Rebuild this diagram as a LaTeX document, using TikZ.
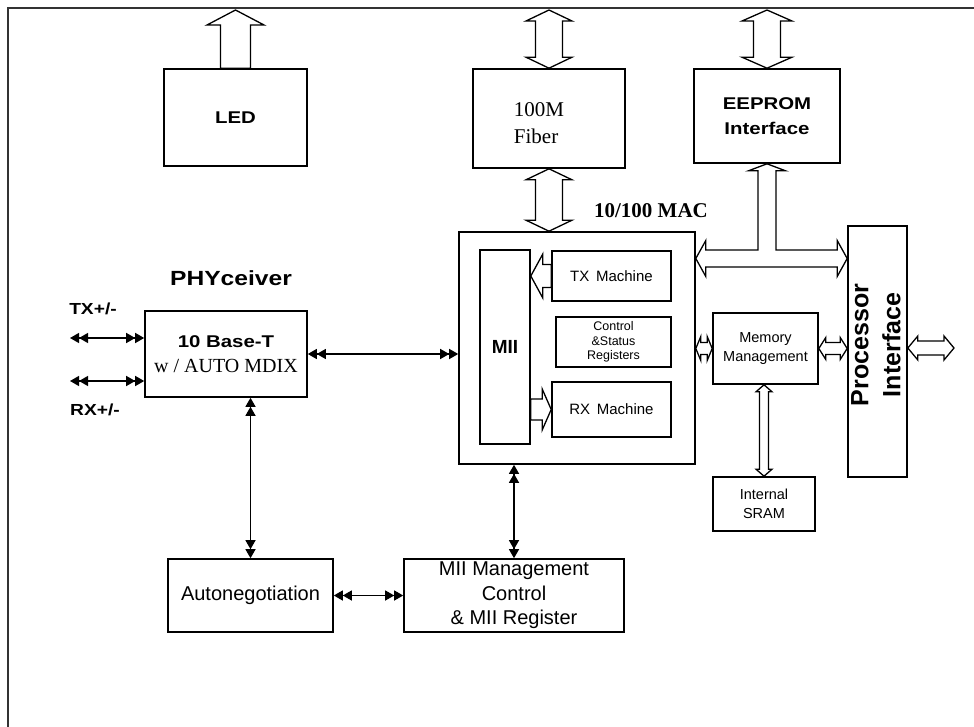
\documentclass[tikz,border=0pt]{standalone}
\usepackage{fontspec}
\setmainfont{Liberation Serif}
\setsansfont{Liberation Sans}
\newfontfamily\bsans[FakeStretch=1.2]{Liberation Sans}
\usetikzlibrary{arrows.meta,calc}
\newcommand\fs[2]{\fontsize{#1}{#2}\selectfont}
\tikzset{
  box/.style={draw, line width=1.6pt, inner sep=0pt, align=center, fill=white},
  blk/.style={draw, line width=1.3pt, fill=white, line join=miter},
  dbl/.style={line width=1.3pt, {Triangle[length=9pt,width=10pt]Triangle[length=9pt,width=10pt]}-{Triangle[length=9pt,width=10pt]Triangle[length=9pt,width=10pt]}},
  lbl/.style={inner sep=0pt, align=center}
}
% block arrow helpers (#3 shaft half width, #4 head half width, #5 head length)
\newcommand\blkvdbl[5]{%
  \draw[blk] (#1) -- ($(#1)+(#4,#5)$) -- ($(#1)+(#3,#5)$) -- ($(#2)+(#3,-#5)$) -- ($(#2)+(#4,-#5)$) -- (#2)
   -- ($(#2)+(-#4,-#5)$) -- ($(#2)+(-#3,-#5)$) -- ($(#1)+(-#3,#5)$) -- ($(#1)+(-#4,#5)$) -- cycle;}
\newcommand\blkhdbl[5]{%
  \draw[blk] (#1) -- ($(#1)+(#5,-#4)$) -- ($(#1)+(#5,-#3)$) -- ($(#2)+(-#5,-#3)$) -- ($(#2)+(-#5,-#4)$) -- (#2)
   -- ($(#2)+(-#5,#4)$) -- ($(#2)+(-#5,#3)$) -- ($(#1)+(#5,#3)$) -- ($(#1)+(#5,#4)$) -- cycle;}
\newcommand\blkup[5]{%
  \draw[blk] (#1) -- ($(#1)+(#4,#5)$) -- ($(#1)+(#3,#5)$) -- ($(#2)+(#3,0)$) -- ($(#2)+(-#3,0)$)
   -- ($(#1)+(-#3,#5)$) -- ($(#1)+(-#4,#5)$) -- cycle;}
\newcommand\blkleft[5]{%
  \draw[blk] (#1) -- ($(#1)+(#5,-#4)$) -- ($(#1)+(#5,-#3)$) -- ($(#2)+(0,-#3)$) -- ($(#2)+(0,#3)$)
   -- ($(#1)+(#5,#3)$) -- ($(#1)+(#5,#4)$) -- cycle;}
\newcommand\blkright[5]{%
  \draw[blk] (#2) -- ($(#2)+(-#5,-#4)$) -- ($(#2)+(-#5,-#3)$) -- ($(#1)+(0,-#3)$) -- ($(#1)+(0,#3)$)
   -- ($(#2)+(-#5,#3)$) -- ($(#2)+(-#5,#4)$) -- cycle;}
\begin{document}
\begin{tikzpicture}[x=1pt,y=-1pt]
\useasboundingbox (0,0) rectangle (974,727);
\fill[white] (0,0) rectangle (974,727);
% frame (cropped at right and bottom)
\coordinate (fr) at (8,8);
\draw[line width=1.5pt, black!80] (fr |- 0,727) -- (fr) -- (974,8);

% boxes
\node[box, minimum width=143, minimum height=97, font={\bsans\bfseries\fs{17}{20}}] (led) at (235.5,117.5) {LED};
\node[box, minimum width=152, minimum height=99] (fiber) at (549,118.5) {};
\node[lbl, align=left, font={\rmfamily\fs{21}{27}}] (fibtxt) at (539,123.5) {100M\\Fiber};
\node[box, minimum width=146, minimum height=94, font={\bsans\bfseries\fs{17}{25}}] (eeprom) at (767,116) {EEPROM\\Interface};
\node[box, minimum width=236, minimum height=232] (mac) at (577,348) {};
\node[box, minimum width=50, minimum height=194, font={\sffamily\bfseries\fs{19}{22}}] (mii) at (505,347) {MII};
\node[box, minimum width=119, minimum height=50, font={\sffamily\fs{15}{18}}] (txm) at (611.5,276) {TX\, Machine};
\node[box, minimum width=115, minimum height=50, font={\sffamily\fs{12.5}{14.5}}] (ctrl) at (613.5,342) {Control\\\&Status\\Registers};
\node[box, minimum width=119, minimum height=55, font={\sffamily\fs{15}{18}}] (rxm) at (611.5,409.5) {RX\, Machine};
\node[box, minimum width=105, minimum height=71, font={\sffamily\fs{14.5}{19}}] (mem) at (765.5,348.5) {Memory\\Management};
\node[box, minimum width=102, minimum height=54, font={\sffamily\fs{14.5}{19}}] (sram) at (764,504) {Internal\\SRAM};
\node[box, minimum width=59, minimum height=251] (proc) at (877.5,351.5) {};
\node[lbl, rotate=90, font={\sffamily\bfseries\fs{25}{32}}] (proctxt) at (876,345) {Processor\\Interface};
\node[box, minimum width=162, minimum height=86, font={\fs{20}{25}}] (phy) at (226,354) {{\bsans\bfseries\fs{17}{25}10 Base-T}\\{\rmfamily w / AUTO MDIX}};
\node[box, minimum width=165, minimum height=73, font={\sffamily\fs{20}{24}}] (auto) at (250.5,595.5) {Autonegotiation};
\node[box, minimum width=220, minimum height=73, font={\sffamily\fs{20}{24.5}}] (miim) at (514,595.5) {MII Management\\Control\\\& MII Register};

% labels
\node[lbl, font={\bsans\bfseries\fs{20.5}{24}}] (phylbl) at (231,278) {PHYceiver};
\node[lbl, font={\bsans\bfseries\fs{16}{20}}] (txlbl) at (93,309) {TX+/-};
\node[lbl, font={\bsans\bfseries\fs{16}{20}}] (rxlbl) at (95,410) {RX+/-};
\node[lbl, font={\rmfamily\bfseries\fs{21}{24}}] (maclbl) at (651,211) {10/100 MAC};

% block arrows
\coordinate (ftop) at (0,10);
\coordinate (ledtip) at (led.north |- ftop);
\blkup{ledtip}{led.north}{15}{28.5}{15}
\coordinate (fibtip) at (fiber.north |- ftop);
\blkvdbl{fibtip}{fiber.north}{13.5}{23}{11}
\coordinate (fibbot) at (fiber.south |- mac.north);
\blkvdbl{fiber.south}{fibbot}{13.5}{23}{11}
\coordinate (eetip) at (eeprom.north |- ftop);
\blkvdbl{eetip}{eeprom.north}{13.5}{25}{11}

% T-shaped bus between MAC, EEPROM and processor
\coordinate (busy) at (0,258.5);
\coordinate (busL) at (mac.east |- busy);
\coordinate (busR) at (proc.west |- busy);
\coordinate (stemT) at (eeprom.south);
\coordinate (stemB) at (stemT |- busy);
\draw[blk] (busL) -- ($(busL)+(10,-18)$) -- ($(busL)+(10,-8.5)$) -- ($(stemB)+(-9,-8.5)$)
  -- ($(stemT)+(-9,7)$) -- ($(stemT)+(-18.5,7)$) -- (stemT) -- ($(stemT)+(18.5,7)$) -- ($(stemT)+(9,7)$)
  -- ($(stemB)+(9,-8.5)$) -- ($(busR)+(-10,-8.5)$) -- ($(busR)+(-10,-18)$) -- (busR)
  -- ($(busR)+(-10,18)$) -- ($(busR)+(-10,8.5)$) -- ($(busL)+(10,8.5)$) -- ($(busL)+(10,18)$) -- cycle;

\coordinate (txtip) at (mii.east |- txm.west);
\blkleft{txtip}{txm.west}{11.5}{22}{12}
\coordinate (rxtail) at (mii.east |- rxm.west);
\blkright{rxtail}{rxm.west}{10.5}{20.5}{9}
\coordinate (mmL) at (mac.east |- mem.west);
\blkhdbl{mmL}{mem.west}{6}{12}{5}
\coordinate (mpR) at (proc.west |- mem.east);
\blkhdbl{mem.east}{mpR}{6}{11}{7}
\coordinate (pout) at (954,348);
\coordinate (pin) at (proc.east |- pout);
\blkhdbl{pin}{pout}{7}{12}{10}
\coordinate (msT) at (sram.north |- mem.south);
\blkvdbl{msT}{sram.north}{4.5}{8}{7}

% thin double-headed connectors
\coordinate (txend) at (70,338);
\coordinate (rxend) at (70,381);
\draw[dbl] (txend) -- (txend -| phy.west);
\draw[dbl] (rxend) -- (rxend -| phy.west);
\draw[dbl] (phy.east) -- (phy.east -| mac.west);
\draw[dbl] (auto.north |- phy.south) -- (auto.north);
\draw[dbl] (auto.east) -- (auto.east -| miim.west);
\draw[dbl] (miim.north |- mac.south) -- (miim.north);
\end{tikzpicture}
\end{document}
